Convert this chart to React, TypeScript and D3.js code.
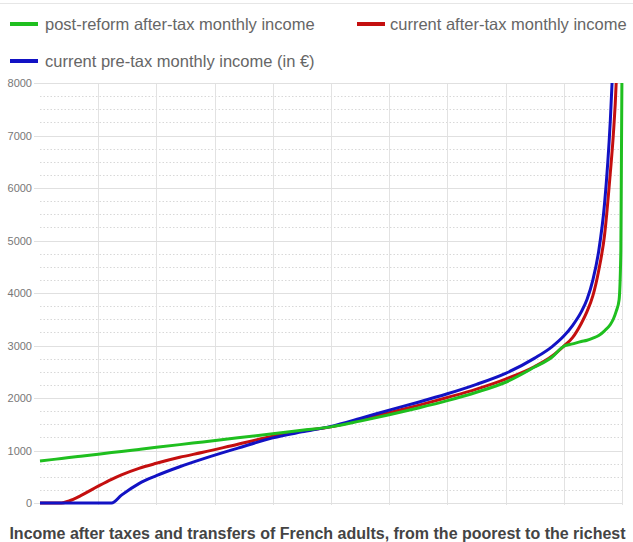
import React from "react";
import * as d3 from "d3";

const percentiles = [0, 2, 3.7, 5, 7, 10, 12.3, 14, 17, 20, 24, 28, 34, 40, 45, 50, 55, 60, 65, 70, 75, 80, 85, 88, 90, 91.5, 93, 94, 95, 96, 97, 98, 98.5, 99, 99.5, 99.8, 100];
const postReform = [800, 826, 848, 865, 891, 930, 960, 982, 1021, 1060, 1112, 1164, 1242, 1320, 1385, 1450, 1560, 1680, 1810, 1950, 2110, 2300, 2590, 2780, 2985, 3030, 3075, 3100, 3140, 3190, 3280, 3400, 3500, 3650, 3870, 4800, 8300];
const currentAfterTax = [0, 0, 0, 40, 140, 320, 450, 535, 660, 756, 870, 965, 1120, 1270, 1370, 1450, 1580, 1720, 1860, 2010, 2170, 2360, 2600, 2800, 2990, 3150, 3420, 3650, 3950, 4430, 5100, 6300, 7000, 8000, 10000, 12000, 14000];
const currentPreTax = [0, 0, 0, 0, 0, 0, 0, 150, 370, 520, 690, 840, 1045, 1240, 1355, 1460, 1610, 1770, 1920, 2080, 2260, 2470, 2760, 2980, 3180, 3380, 3640, 3880, 4250, 4800, 5700, 7300, 8500, 10000, 12000, 14000, 16000];
const yTicks = [0, 1000, 2000, 3000, 4000, 5000, 6000, 7000, 8000];
const xGrid = [10, 20, 30, 40, 50, 60, 70, 80, 90, 100];

const seriesList = [
  { name: "post-reform after-tax monthly income", values: postReform, color: "#1fbf1f" },
  { name: "current after-tax monthly income", values: currentAfterTax, color: "#c40f0f" },
  { name: "current pre-tax monthly income (in €)", values: currentPreTax, color: "#1212c4" },
];
const drawOrder = [1, 2, 0];

const W = 633, H = 542;
const L = 40, R = 622, T = 83, B = 503;

export default function App() {
  const x = d3.scaleLinear().domain([0, 100]).range([L, R]);
  const y = d3.scaleLinear().domain([0, 8000]).range([B, T]);
  const minor: number[] = d3.range(250, 8000, 250).filter((v) => v % 1000 !== 0);
  const line = (vals: number[]) =>
    d3
      .line<number>()
      .x((_, i) => x(percentiles[i]))
      .y((d) => y(d))
      .curve(d3.curveMonotoneX)(vals) as string;
  const font = "'Liberation Sans', Arial, Helvetica, sans-serif";
  return (
    <svg width={W} height={H} style={{ position: "absolute", left: 0, top: 0, background: "#fff" }} fontFamily={font}>
      <defs>
        <clipPath id="plot">
          <rect x={L - 5} y={T} width={R - L + 10} height={B - T + 2} />
        </clipPath>
      </defs>
      <line x1={0} x2={W} y1={3.5} y2={3.5} stroke="#e6e6e6" />
      {/* legend */}
      <g>
        <line x1={10} x2={38} y1={24} y2={24} stroke={seriesList[0].color} strokeWidth={4} />
        <text x={45} y={29.5} fontSize={16.5} fill="#666">{seriesList[0].name}</text>
        <line x1={357} x2={385} y1={24} y2={24} stroke={seriesList[1].color} strokeWidth={4} />
        <text x={390} y={29.5} fontSize={16.5} fill="#666">{seriesList[1].name}</text>
        <line x1={10} x2={38} y1={61} y2={61} stroke={seriesList[2].color} strokeWidth={4} />
        <text x={45} y={66.5} fontSize={16.5} fill="#666">{seriesList[2].name}</text>
      </g>
      {/* grid */}
      {minor.map((v) => (
        <line key={"m" + v} x1={L} x2={R} y1={Math.round(y(v)) + 0.5} y2={Math.round(y(v)) + 0.5} stroke="#d8d8d8" strokeDasharray="1.5,2" />
      ))}
      {xGrid.map((p) => (
        <line key={"v" + p} x1={Math.round(x(p)) + 0.5} x2={Math.round(x(p)) + 0.5} y1={T} y2={B + 2} stroke="#e2e2e2" />
      ))}
      {yTicks.map((v) => (
        <g key={"y" + v}>
          <line x1={L - 6} x2={R} y1={Math.round(y(v)) + 0.5} y2={Math.round(y(v)) + 0.5} stroke="#e0e0e0" />
          <text x={L - 8} y={y(v) + 4} fontSize={11} fill="#777" textAnchor="end">{v}</text>
        </g>
      ))}
      {/* lines */}
      <g clipPath="url(#plot)">
        {drawOrder.map((i) => (
          <path key={i} d={line(seriesList[i].values)} fill="none" stroke={seriesList[i].color} strokeWidth={3} strokeLinejoin="round" />
        ))}
      </g>
      <text x={W / 2 + 1} y={539} fontSize={16} fontWeight="bold" fill="#444" textAnchor="middle">
        Income after taxes and transfers of French adults, from the poorest to the richest
      </text>
    </svg>
  );
}
